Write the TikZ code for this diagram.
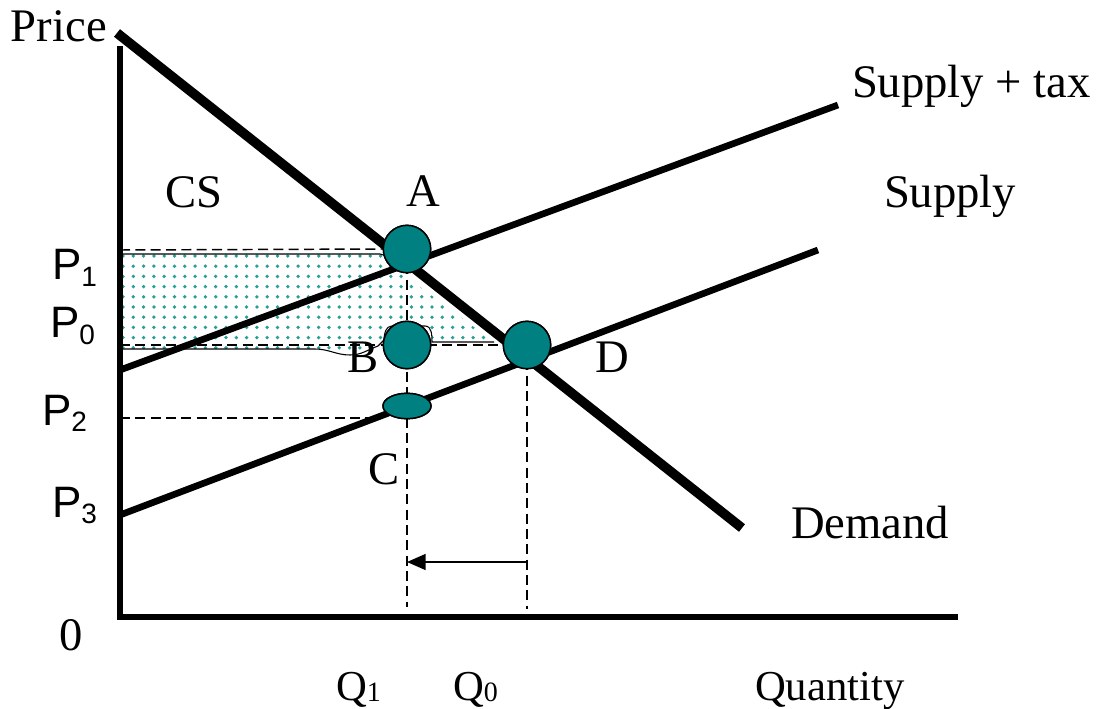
\documentclass[tikz,border=0pt]{standalone}
\usepackage{fontspec}
\setmainfont{Liberation Serif}
\newfontfamily\arialf{Liberation Sans}
\usetikzlibrary{arrows.meta,shapes.geometric}
\definecolor{tealc}{RGB}{0,128,128}
\definecolor{dotc}{RGB}{40,160,150}
\begin{document}
\begin{tikzpicture}[x=0.75pt,y=-0.75pt,
  lbl/.style={anchor=base west,inner sep=0pt,outer sep=0pt,font=\fontsize{35}{40}\selectfont},
  qlbl/.style={anchor=base west,inner sep=0pt,outer sep=0pt,font=\fontsize{32}{36}\selectfont},
  plbl/.style={anchor=base west,inner sep=0pt,outer sep=0pt,font=\arialf\fontsize{33}{38}\selectfont},
  pt/.style={circle,draw=black,line width=1.1pt,fill=tealc,minimum size=35.5pt,inner sep=0pt},
  ptc/.style={ellipse,draw=black,line width=1.1pt,fill=tealc,minimum width=36pt,minimum height=19pt,inner sep=0pt},
  guide/.style={line width=1.1pt,dash pattern=on 7.5pt off 4pt},
  axisline/.style={line width=4.5pt},
  demandline/.style={line width=7.2pt},
  supplyline/.style={line width=5pt},
  region/.style={line width=0.8pt}]
\useasboundingbox (0,0) rectangle (1100,709);
% coordinates
\coordinate (ytop) at (120,46);
\coordinate (origin) at (120,617);
\coordinate (xend) at (958,617);
\coordinate (dstart) at (117,33);
\coordinate (dend) at (742,528);
\coordinate (tstart) at (120,370);
\coordinate (tend) at (838,105);
\coordinate (sstart) at (120,515);
\coordinate (send) at (818,250);
\coordinate (p1) at (120,250);
\coordinate (p0) at (120,345);
\coordinate (p2) at (120,418);
\coordinate (q1b) at (407,607);
\coordinate (q0b) at (527,609);
\coordinate (arrs) at (527,562);
\coordinate (arre) at (407,562);
% shaded region
\path[fill=white] (122,252) -- (380,252) to[out=0,in=135] (392,266) -- (494,342) -- (432,342)
  to[out=90,in=0] (425,326) -- (392,326) to[out=180,in=90] (384,340) -- (378,346)
  to[out=200,in=0] (350,355) to[out=180,in=0] (315,349) -- (122,349) -- cycle;
\begin{scope}
  \clip (122,252) -- (380,252) to[out=0,in=135] (392,266) -- (494,342) -- (432,342)
  to[out=90,in=0] (425,326) -- (392,326) to[out=180,in=90] (384,340) -- (378,346)
  to[out=200,in=0] (350,355) to[out=180,in=0] (315,349) -- (122,349) -- cycle;
  \foreach \i in {0,...,37} {
    \foreach \j in {0,...,9} {
      \fill[dotc] (123+\i*10.3,256+\j*10.2) circle (1.4pt);
    }
  }
\end{scope}
\draw[region] (122,254) -- (380,254) to[out=0,in=135] (392,266)
  (494,342) -- (432,342) to[out=90,in=0] (425,326) -- (392,326) to[out=180,in=90] (384,340) -- (378,346)
  to[out=200,in=0] (350,355) to[out=180,in=0] (315,349) -- (122,349);
% circles (nodes)
\node[pt] (A) at (407,249) {};
\node[pt] (B) at (407,345) {};
\node[pt] (D) at (527,345) {};
\node[ptc] (C) at (407,406) {};
% guide lines
\draw[guide] (p1) -- (A.west);
\draw[guide] (p0) -- (D.center);
\draw[guide] (p2) -- (C.west |- p2);
\draw[guide] (A.center) -- (q1b);
\draw[guide] (D.center) -- (q0b);
\draw[line width=1.1pt,-{Triangle[length=14pt,width=12pt]}] (arrs) -- (arre);
% curves
\draw[supplyline] (tstart) -- (tend);
\draw[supplyline] (sstart) -- (send);
\draw[demandline] (dstart) -- (dend);
\draw[axisline,line join=miter] (ytop) -- (origin) -- (xend);
% circles on top
\node[pt] at (A.center) {};
\node[pt] at (B.center) {};
\node[pt] at (D.center) {};
\node[ptc] at (C.center) {};
% labels
\node[lbl] (price) at (11,42) {Price};
\node[lbl] (suptax) at (852,98) {Supply + tax};
\node[lbl] (sup) at (884,208) {Supply};
\node[lbl] (cs) at (165,208) {CS};
\node[lbl] (la) at (406,207) {A};
\node[lbl] (lb) at (347,373) {B};
\node[lbl] (ld) at (595,373) {D};
\node[lbl] (lc) at (368,484) {C};
\node[lbl] (dem) at (791,538) {Demand};
\node[lbl] (zero) at (59,650) {0};
\node[qlbl] (lq1) at (336,700) {Q\raisebox{-1pt}{\fontsize{21}{24}\selectfont 1}};
\node[qlbl] (lq0) at (453,700) {Q\raisebox{-1pt}{\fontsize{21}{24}\selectfont 0}};
\node[qlbl] (quant) at (755,700) {Quantity};
\node[plbl] (lp1) at (52,280) {P\raisebox{-5pt}{\fontsize{21}{24}\selectfont 1}};
\node[plbl] (lp0) at (50,338) {P\raisebox{-5pt}{\fontsize{21}{24}\selectfont 0}};
\node[plbl] (lp2) at (42,425) {P\raisebox{-5pt}{\fontsize{21}{24}\selectfont 2}};
\node[plbl] (lp3) at (52,517) {P\raisebox{-5pt}{\fontsize{21}{24}\selectfont 3}};
\end{tikzpicture}
\end{document}
